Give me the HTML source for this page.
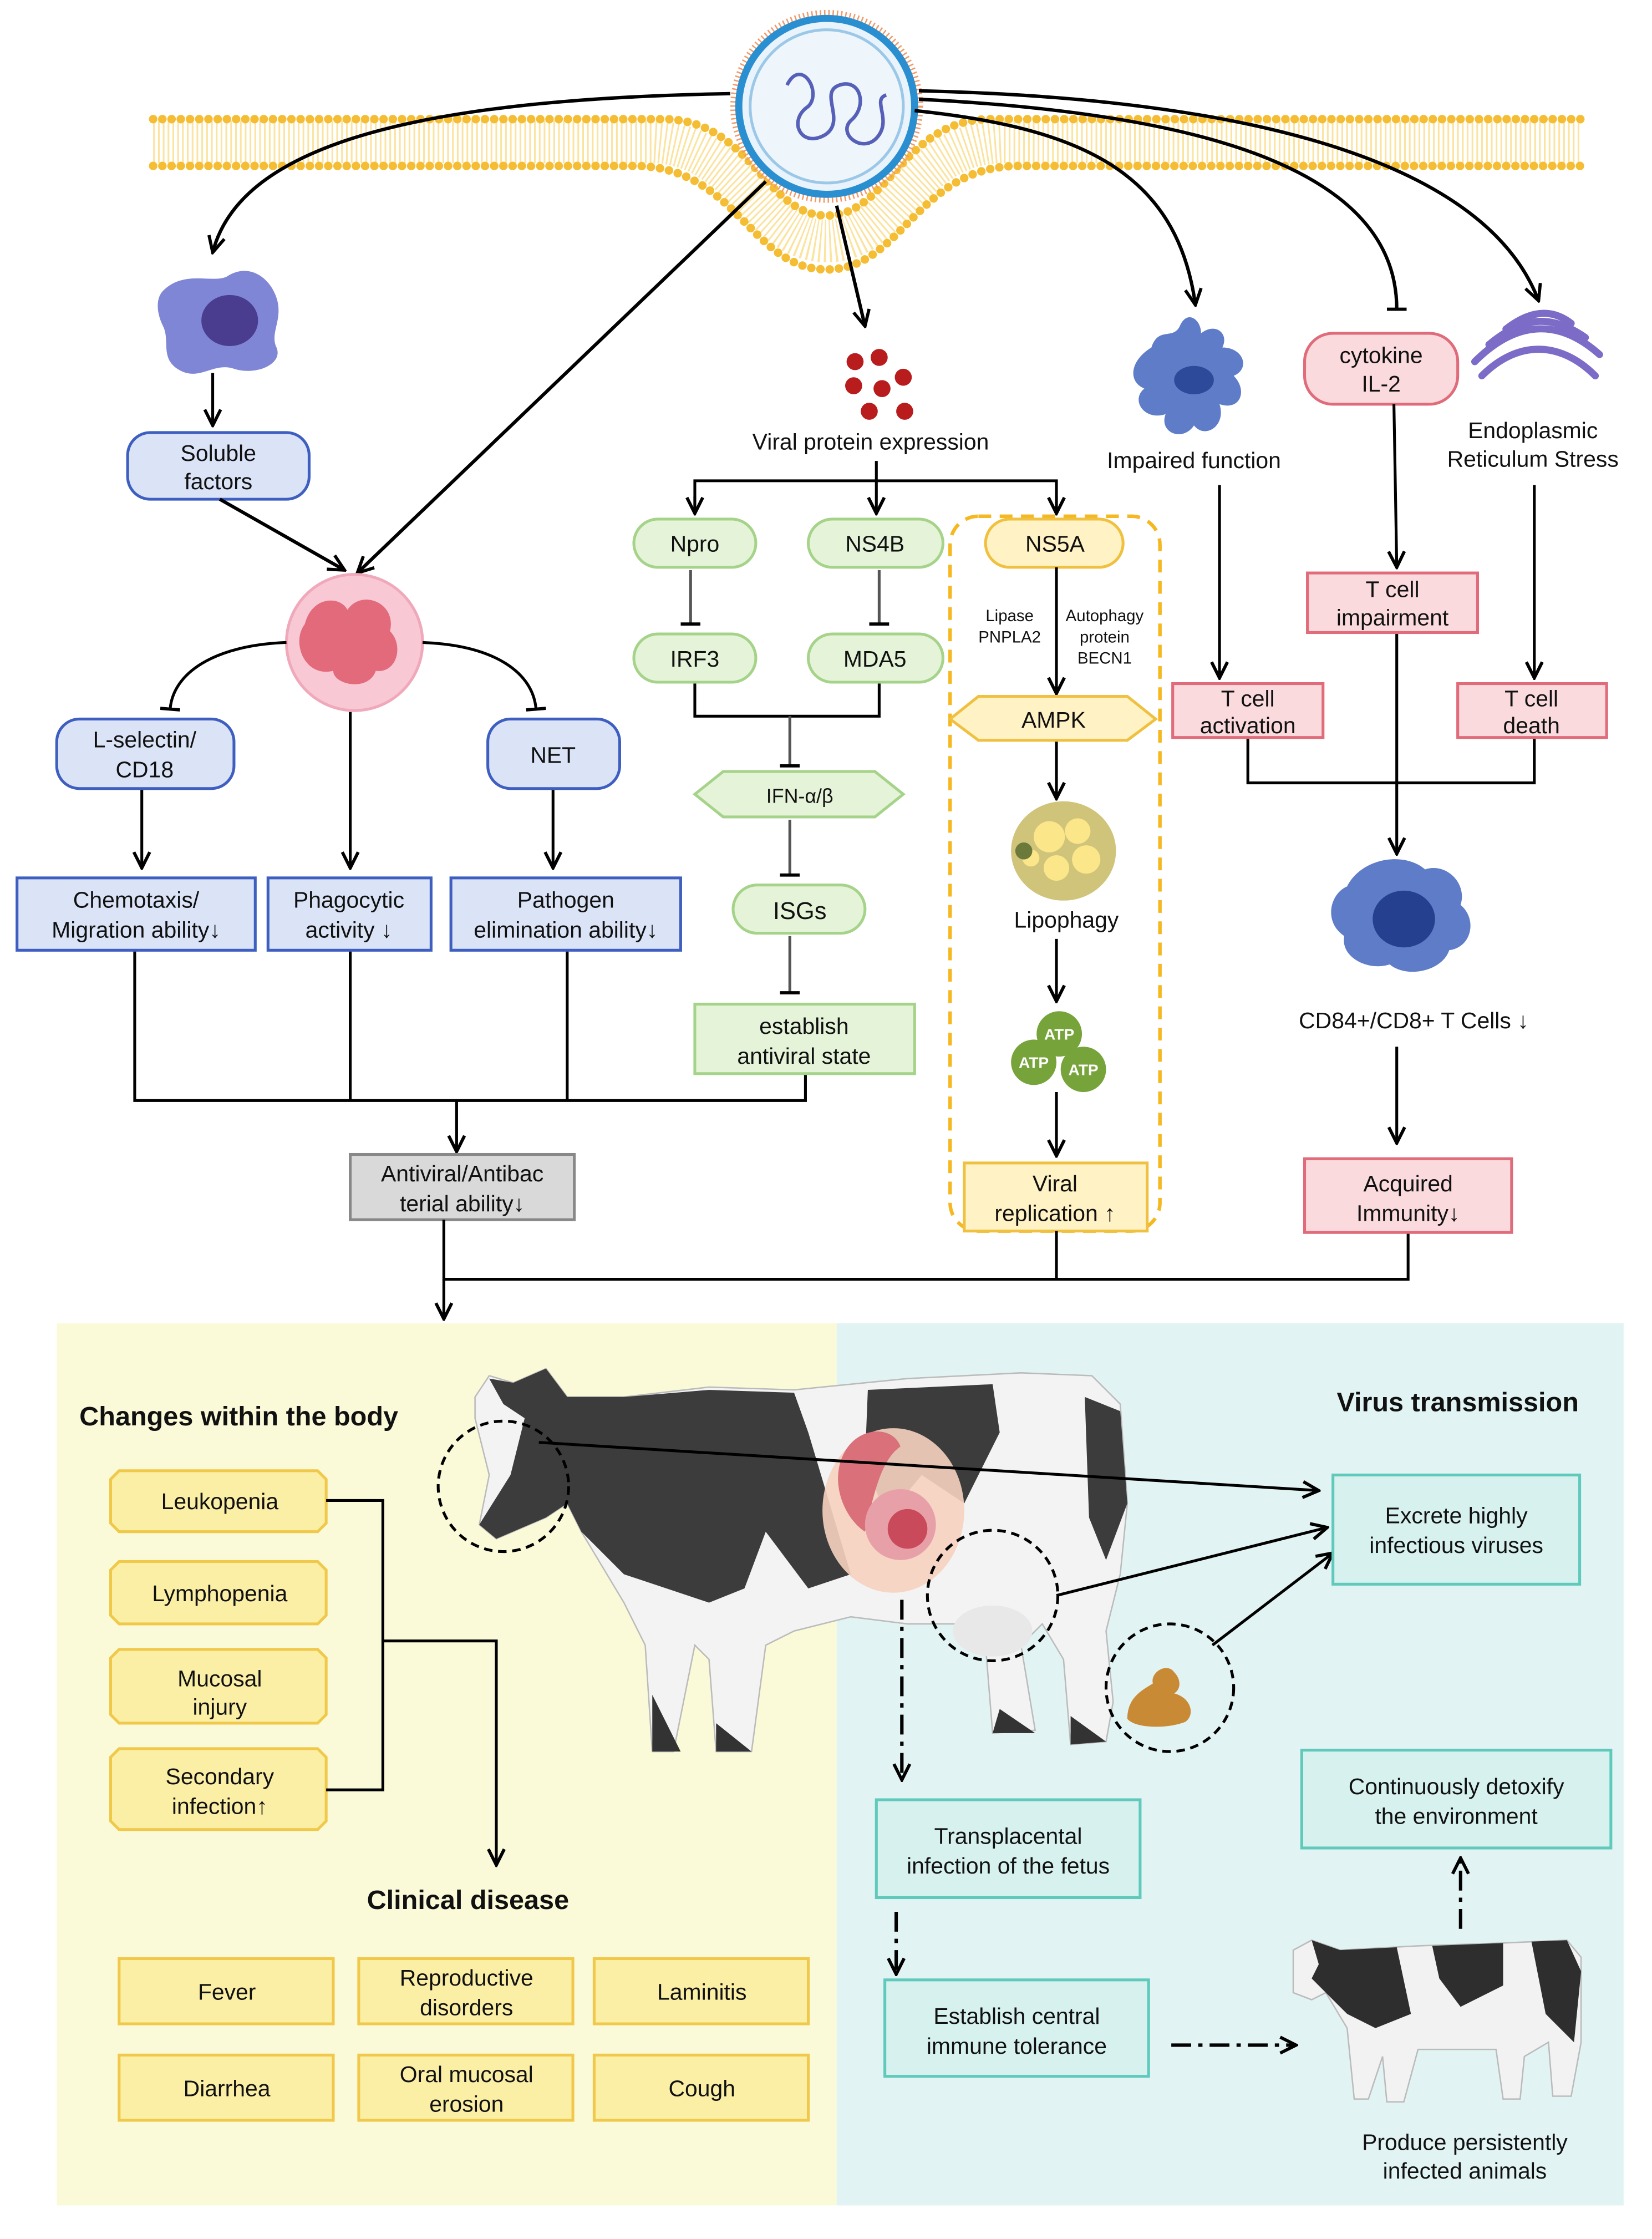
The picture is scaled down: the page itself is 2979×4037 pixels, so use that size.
<!DOCTYPE html>
<html><head><meta charset="utf-8"><style>
html,body{margin:0;padding:0;background:#fff}
svg{display:block}
text{font-family:"Liberation Sans",Arial,sans-serif;fill:#111}
</style></head><body>
<svg width="2979" height="4037" viewBox="0 0 1165 1578.7" preserveAspectRatio="none" xmlns="http://www.w3.org/2000/svg">
<defs>
<marker id="ar" viewBox="0 0 10 10" refX="9" refY="5" markerWidth="7" markerHeight="7" orient="auto-start-reverse" markerUnits="userSpaceOnUse"><path d="M0,0 L10,5 L0,10" fill="none" stroke="#000" stroke-width="2"/></marker>
<marker id="ar2" viewBox="0 0 10 10" refX="9" refY="5" markerWidth="14" markerHeight="14" orient="auto" markerUnits="userSpaceOnUse"><path d="M1,1 L9,5 L1,9" fill="none" stroke="#000" stroke-width="1.6"/></marker>
<marker id="tb" viewBox="0 0 10 10" refX="5" refY="5" markerWidth="14" markerHeight="14" orient="auto" markerUnits="userSpaceOnUse"><path d="M5,0 L5,10" stroke="#000" stroke-width="1.6"/></marker>
</defs>

<!-- panels -->
<rect x="40" y="933" width="550" height="622" fill="#fbfad8"/>
<rect x="590" y="933" width="555" height="622" fill="#e1f4f3"/>

<!-- membrane -->
<g fill="none">
<path d="M108,83 L470,83 C530,85 540,150 583,150 C626,150 636,85 696,83 L1115,83" stroke="#f7d27a" stroke-width="0"/>
<path d="M108,100 L460,100 C525,102 535,170 583,170 C631,170 641,102 706,100 L1115,100" stroke="#fbe3a0" stroke-width="30" stroke-dasharray="1.2 2.2"/>
<path d="M108,84 L470,84 C530,86 540,152 583,152 C626,152 636,86 696,84 L1115,84" stroke="#f5bd33" stroke-width="6" stroke-linecap="round" stroke-dasharray="0 6.5"/>
<path d="M108,117 L450,117 C520,119 530,190 583,190 C636,190 646,119 716,117 L1115,117" stroke="#f5bd33" stroke-width="6" stroke-linecap="round" stroke-dasharray="0 6.5"/>
</g>
<!-- virus -->
<circle cx="583" cy="75" r="66" fill="#fff" stroke="#f09a6a" stroke-width="4" stroke-dasharray="1 2"/>
<circle cx="583" cy="75" r="62" fill="#e9f3fb" stroke="#2a8fd0" stroke-width="5"/>
<circle cx="583" cy="75" r="54" fill="#eef6fc" stroke="#9cc8e8" stroke-width="2"/>
<path d="M555,60 c10,-20 25,5 15,15 c-15,10 -5,30 12,20 c15,-10 -5,-30 10,-35 c15,-5 20,15 8,25 c-10,10 10,25 20,10 c8,-12 -5,-25 5,-28" fill="none" stroke="#5660b8" stroke-width="2.5"/>

<!-- virus arrows -->
<g fill="none" stroke="#000" stroke-width="2.4">
<path d="M515,66 C300,70 170,100 150,178" marker-end="url(#ar2)"/>
<path d="M540,128 L252,404" marker-end="url(#ar2)"/>
<path d="M590,145 L610,230" marker-end="url(#ar2)"/>
<path d="M645,78 C760,90 830,120 843,215" marker-end="url(#ar2)"/>
<path d="M648,70 C850,80 985,120 985,218" marker-end="url(#tb)"/>
<path d="M648,64 C900,70 1050,120 1085,212" marker-end="url(#ar2)"/>
</g>

<!-- macrophage -->
<path d="M115,205 c15,-15 35,-5 45,-10 c15,-10 30,0 35,15 c5,15 -5,25 0,35 c5,12 -15,20 -30,15 c-15,-5 -25,10 -40,0 c-12,-8 -5,-20 -10,-30 c-5,-10 -5,-20 0,-25z" fill="#7f86d6"/>
<ellipse cx="162" cy="226" rx="20" ry="18" fill="#4a3d90"/>
<line x1="150" y1="263" x2="150" y2="300" stroke="#000" stroke-width="2" marker-end="url(#ar2)"/>
<rect x="90" y="305" width="128" height="47" rx="16" fill="#dbe3f7" stroke="#3f5fc0" stroke-width="2"/>
<text x="154" y="325" font-size="16" text-anchor="middle">Soluble</text>
<text x="154" y="345" font-size="16" text-anchor="middle">factors</text>
<line x1="155" y1="352" x2="243" y2="402" stroke="#000" stroke-width="2.4" marker-end="url(#ar2)"/>

<!-- neutrophil -->
<circle cx="250" cy="453" r="48" fill="#f8c8d4" stroke="#f0a8bb" stroke-width="2"/>
<path d="M215,440 c5,-20 25,-20 30,-10 c10,-15 35,-5 30,15 c10,10 5,30 -10,28 c-5,15 -30,10 -30,0 c-20,5 -30,-20 -20,-33z" fill="#e26a7a"/>
<g fill="none" stroke="#000" stroke-width="2">
<path d="M202,453 C150,455 122,475 120,500" marker-end="url(#tb)"/>
<path d="M298,453 C350,455 376,475 378,500" marker-end="url(#tb)"/>
<line x1="247" y1="502" x2="247" y2="612" marker-end="url(#ar2)"/>
<line x1="100" y1="556" x2="100" y2="612" marker-end="url(#ar2)"/>
<line x1="390" y1="556" x2="390" y2="612" marker-end="url(#ar2)"/>
<polyline points="95,670 95,776 568,776 568,757"/>
<line x1="247" y1="670" x2="247" y2="776"/>
<line x1="400" y1="670" x2="400" y2="776"/>
<line x1="322" y1="776" x2="322" y2="812" marker-end="url(#ar2)"/>
</g>
<rect x="40" y="507" width="125" height="49" rx="16" fill="#dbe3f7" stroke="#3f5fc0" stroke-width="2"/>
<text x="102" y="527" font-size="16" text-anchor="middle">L-selectin/</text>
<text x="102" y="548" font-size="16" text-anchor="middle">CD18</text>
<rect x="344" y="507" width="93" height="49" rx="16" fill="#dbe3f7" stroke="#3f5fc0" stroke-width="2"/>
<text x="390" y="538" font-size="16" text-anchor="middle">NET</text>
<rect x="12" y="619" width="168" height="51" fill="#dbe3f7" stroke="#3f5fc0" stroke-width="2"/>
<text x="96" y="640" font-size="16" text-anchor="middle">Chemotaxis/</text>
<text x="96" y="661" font-size="16" text-anchor="middle">Migration ability↓</text>
<rect x="189" y="619" width="115" height="51" fill="#dbe3f7" stroke="#3f5fc0" stroke-width="2"/>
<text x="246" y="640" font-size="16" text-anchor="middle">Phagocytic</text>
<text x="246" y="661" font-size="16" text-anchor="middle">activity  ↓</text>
<rect x="318" y="619" width="162" height="51" fill="#dbe3f7" stroke="#3f5fc0" stroke-width="2"/>
<text x="399" y="640" font-size="16" text-anchor="middle">Pathogen</text>
<text x="399" y="661" font-size="16" text-anchor="middle">elimination ability↓</text>
<rect x="247" y="814" width="158" height="46" fill="#d9d9d9" stroke="#888" stroke-width="2"/>
<text x="326" y="833" font-size="16" text-anchor="middle">Antiviral/Antibac</text>
<text x="326" y="854" font-size="16" text-anchor="middle">terial ability↓</text>

<!-- viral protein -->
<g fill="#b81c1c"><circle cx="603" cy="255" r="6"/><circle cx="620" cy="252" r="6"/><circle cx="637" cy="266" r="6"/><circle cx="602" cy="272" r="6"/><circle cx="622" cy="274" r="6"/><circle cx="613" cy="290" r="6"/><circle cx="638" cy="290" r="6"/></g>
<text x="614" y="317" font-size="16" text-anchor="middle">Viral protein expression</text>
<g fill="none" stroke="#000" stroke-width="2">
<line x1="618" y1="325" x2="618" y2="362" marker-end="url(#ar2)"/>
<polyline points="490,362 490,339 745,339 745,362"/>
<line x1="490" y1="350" x2="490" y2="362" marker-end="url(#ar2)"/>
<line x1="745" y1="350" x2="745" y2="362" marker-end="url(#ar2)"/>
<line x1="487" y1="402" x2="487" y2="440" marker-end="url(#tb)" stroke="#555"/>
<line x1="620" y1="402" x2="620" y2="440" marker-end="url(#tb)" stroke="#555"/>
<polyline points="490,481 490,505 620,505 620,481"/>
<line x1="557" y1="505" x2="557" y2="540" marker-end="url(#tb)" stroke="#555"/>
<line x1="557" y1="578" x2="557" y2="617" marker-end="url(#tb)" stroke="#555"/>
<line x1="557" y1="660" x2="557" y2="700" marker-end="url(#tb)" stroke="#555"/>
</g>
<g stroke="#a6d38a" stroke-width="2" fill="#e5f4d9">
<rect x="447" y="366" width="86" height="34" rx="17"/>
<rect x="570" y="366" width="95" height="34" rx="17"/>
<rect x="447" y="447" width="86" height="34" rx="17"/>
<rect x="570" y="447" width="95" height="34" rx="17"/>
<polygon points="490,560 510,544 617,544 637,560 617,576 510,576"/>
<rect x="517" y="624" width="93" height="34" rx="17"/>
<rect x="490" y="708" width="155" height="49"/>
</g>
<text x="490" y="389" font-size="16" text-anchor="middle">Npro</text>
<text x="617" y="389" font-size="16" text-anchor="middle">NS4B</text>
<text x="490" y="470" font-size="16" text-anchor="middle">IRF3</text>
<text x="617" y="470" font-size="16" text-anchor="middle">MDA5</text>
<text x="564" y="566" font-size="14" text-anchor="middle">IFN-α/β</text>
<text x="564" y="648" font-size="17" text-anchor="middle">ISGs</text>
<text x="567" y="729" font-size="16" text-anchor="middle">establish</text>
<text x="567" y="750" font-size="16" text-anchor="middle">antiviral state</text>

<!-- NS5A column -->
<rect x="670" y="364" width="148" height="504" rx="20" fill="none" stroke="#f5b820" stroke-width="2.5" stroke-dasharray="9 6"/>
<rect x="695" y="366" width="97" height="34" rx="17" fill="#fff2c4" stroke="#f0c040" stroke-width="2"/>
<text x="744" y="389" font-size="16" text-anchor="middle">NS5A</text>
<g fill="none" stroke="#000" stroke-width="2">
<line x1="745" y1="400" x2="745" y2="489" marker-end="url(#ar2)"/>
<line x1="745" y1="522" x2="745" y2="563" marker-end="url(#ar2)"/>
<line x1="745" y1="662" x2="745" y2="706" marker-end="url(#ar2)"/>
<line x1="745" y1="770" x2="745" y2="815" marker-end="url(#ar2)"/>
</g>
<text x="712" y="438" font-size="11.5" text-anchor="middle">Lipase</text>
<text x="712" y="453" font-size="11.5" text-anchor="middle">PNPLA2</text>
<text x="779" y="438" font-size="11.5" text-anchor="middle">Autophagy</text>
<text x="779" y="453" font-size="11.5" text-anchor="middle">protein</text>
<text x="779" y="468" font-size="11.5" text-anchor="middle">BECN1</text>
<polygon points="670,507 690,491 795,491 815,507 795,522 690,522" fill="#fff2c4" stroke="#f0c040" stroke-width="2"/>
<text x="743" y="513" font-size="16" text-anchor="middle">AMPK</text>
<ellipse cx="750" cy="600" rx="37" ry="35" fill="#cfc47a"/>
<circle cx="740" cy="590" r="11" fill="#fbe68a"/><circle cx="760" cy="586" r="9" fill="#fbe68a"/><circle cx="766" cy="606" r="10" fill="#fbe68a"/><circle cx="745" cy="612" r="9" fill="#fbe68a"/><circle cx="727" cy="605" r="6" fill="#fbe68a"/><circle cx="722" cy="600" r="6" fill="#6b7a3a"/>
<text x="752" y="654" font-size="16" text-anchor="middle">Lipophagy</text>
<g fill="#77a43a"><circle cx="747" cy="729" r="16"/><circle cx="729" cy="749" r="16"/><circle cx="764" cy="754" r="16"/></g>
<g fill="#fff" font-size="11" font-weight="bold" text-anchor="middle"><text x="747" y="733" style="fill:#fff">ATP</text><text x="729" y="753" style="fill:#fff">ATP</text><text x="764" y="758" style="fill:#fff">ATP</text></g>
<rect x="680" y="820" width="129" height="48" fill="#fff2c4" stroke="#f0c040" stroke-width="2"/>
<text x="744" y="840" font-size="16" text-anchor="middle">Viral</text>
<text x="744" y="861" font-size="16" text-anchor="middle">replication  ↑</text>

<!-- right column -->
<path d="M812,245 c5,-15 15,-5 20,-15 c5,-12 15,-5 15,5 c10,-8 20,0 15,10 c15,0 20,15 8,20 c10,10 5,25 -10,20 c5,15 -10,25 -18,15 c-8,12 -25,5 -20,-8 c-15,5 -25,-10 -15,-18 c-12,-5 -10,-20 5,-29z" fill="#5f7cc8"/>
<ellipse cx="842" cy="268" rx="14" ry="10" fill="#2d4a9a"/>
<text x="842" y="330" font-size="16" text-anchor="middle">Impaired function</text>
<rect x="920" y="235" width="108" height="50" rx="20" fill="#fadadd" stroke="#e06b7a" stroke-width="2"/>
<text x="974" y="256" font-size="16" text-anchor="middle">cytokine</text>
<text x="974" y="276" font-size="16" text-anchor="middle">IL-2</text>
<g fill="none" stroke="#7c6cc8" stroke-width="5" stroke-linecap="round">
<path d="M1045,265 C1070,240 1100,240 1125,265"/><path d="M1040,255 C1070,225 1100,225 1128,250"/><path d="M1050,243 C1075,222 1095,222 1118,238"/><path d="M1062,232 C1080,218 1095,218 1108,228"/>
</g>
<text x="1081" y="309" font-size="16" text-anchor="middle">Endoplasmic</text>
<text x="1081" y="329" font-size="16" text-anchor="middle">Reticulum Stress</text>
<g fill="none" stroke="#000" stroke-width="2">
<line x1="860" y1="342" x2="860" y2="478" marker-end="url(#ar2)"/>
<line x1="983" y1="285" x2="985" y2="400" marker-end="url(#ar2)"/>
<line x1="1082" y1="342" x2="1082" y2="478" marker-end="url(#ar2)"/>
<line x1="985" y1="446" x2="985" y2="602" marker-end="url(#ar2)"/>
<polyline points="880,520 880,552 1082,552 1082,520"/>
<line x1="985" y1="738" x2="985" y2="806" marker-end="url(#ar2)"/>
<polyline points="313,860 313,902 993,902 993,869"/>
<line x1="745" y1="868" x2="745" y2="902"/>
<line x1="313" y1="902" x2="313" y2="930" marker-end="url(#ar2)"/>
</g>
<g fill="#fadadd" stroke="#e06b7a" stroke-width="2">
<rect x="922" y="404" width="120" height="42"/>
<rect x="827" y="482" width="106" height="38"/>
<rect x="1028" y="482" width="105" height="38"/>
<rect x="920" y="817" width="146" height="52"/>
</g>
<text x="982" y="421" font-size="16" text-anchor="middle">T cell</text>
<text x="982" y="441" font-size="16" text-anchor="middle">impairment</text>
<text x="880" y="498" font-size="16" text-anchor="middle">T cell</text>
<text x="880" y="517" font-size="16" text-anchor="middle">activation</text>
<text x="1080" y="498" font-size="16" text-anchor="middle">T cell</text>
<text x="1080" y="517" font-size="16" text-anchor="middle">death</text>
<text x="993" y="840" font-size="16" text-anchor="middle">Acquired</text>
<text x="993" y="861" font-size="16" text-anchor="middle">Immunity↓</text>
<path d="M950,625 c10,-20 40,-25 55,-12 c15,-5 30,10 25,25 c12,10 8,30 -8,32 c-5,15 -30,20 -42,10 c-15,5 -35,-5 -32,-20 c-15,-10 -10,-30 2,-35z" fill="#5f7cc8"/>
<ellipse cx="990" cy="648" rx="22" ry="20" fill="#24408e"/>
<text x="997" y="725" font-size="16" text-anchor="middle">CD84+/CD8+ T Cells ↓</text>

<!-- bottom left -->
<text x="56" y="1005" font-size="19" font-weight="bold">Changes within the body</text>
<g fill="#fbefa6" stroke="#f0c84a" stroke-width="2">
<polygon points="84,1037 224,1037 230,1043 230,1074 224,1080 84,1080 78,1074 78,1043"/>
<polygon points="84,1101 224,1101 230,1107 230,1139 224,1145 84,1145 78,1139 78,1107"/>
<polygon points="84,1163 224,1163 230,1169 230,1209 224,1215 84,1215 78,1209 78,1169"/>
<polygon points="84,1233 224,1233 230,1239 230,1284 224,1290 84,1290 78,1284 78,1239"/>
<rect x="84" y="1381" width="151" height="46"/><rect x="253" y="1381" width="151" height="46"/><rect x="419" y="1381" width="151" height="46"/>
<rect x="84" y="1449" width="151" height="46"/><rect x="253" y="1449" width="151" height="46"/><rect x="419" y="1449" width="151" height="46"/>
</g>
<g font-size="16" text-anchor="middle">
<text x="155" y="1064">Leukopenia</text>
<text x="155" y="1129">Lymphopenia</text>
<text x="155" y="1189">Mucosal</text><text x="155" y="1209">injury</text>
<text x="155" y="1258">Secondary</text><text x="155" y="1279">infection↑</text>
<text x="160" y="1410">Fever</text>
<text x="329" y="1400">Reproductive</text><text x="329" y="1421">disorders</text>
<text x="495" y="1410">Laminitis</text>
<text x="160" y="1478">Diarrhea</text>
<text x="329" y="1468">Oral mucosal</text><text x="329" y="1489">erosion</text>
<text x="495" y="1478">Cough</text>
</g>
<g fill="none" stroke="#000" stroke-width="2">
<polyline points="230,1058 270,1058 270,1262 230,1262"/>
<polyline points="270,1157 350,1157 350,1315" marker-end="url(#ar2)"/>
</g>
<text x="330" y="1346" font-size="19" font-weight="bold" text-anchor="middle">Clinical disease</text>

<!-- big cow -->
<g>
<path d="M335,985 L345,970 L362,975 L385,965 L400,985 L440,985 L500,978 L560,980 L640,972 L720,968 L770,970 L790,990 L795,1060 L790,1110 L780,1150 L785,1200 L780,1228 L755,1230 L750,1170 L735,1145 L720,1160 L730,1220 L700,1222 L695,1160 L680,1145 L640,1145 L600,1140 L560,1150 L540,1160 L530,1235 L505,1235 L500,1170 L490,1160 L475,1235 L460,1235 L455,1160 L440,1130 L410,1080 L400,1060 L385,1070 L350,1085 L338,1075 L345,1040 L335,1000z" fill="#f3f3f3" stroke="#bbb" stroke-width="1"/>
<path d="M345,972 L362,975 L385,965 L400,985 L440,985 L500,980 L560,982 L570,1010 L585,1060 L600,1110 L570,1120 L540,1080 L525,1120 L500,1130 L470,1120 L440,1110 L410,1080 L400,1060 L385,1070 L350,1085 L338,1075 L360,1040 L370,1000 L355,990z" fill="#3c3c3c"/>
<path d="M612,980 L700,976 L705,1010 L680,1060 L650,1040 L625,1070 L610,1030z" fill="#3c3c3c"/>
<path d="M765,985 L790,995 L795,1060 L780,1100 L768,1070z" fill="#3c3c3c"/>
<path d="M460,1195 L480,1235 L460,1235z M505,1215 L530,1235 L505,1235z M705,1205 L730,1222 L700,1222z M755,1210 L780,1228 L755,1230z" fill="#333"/>
<ellipse cx="630" cy="1065" rx="50" ry="58" fill="#f6d2c0" opacity="0.9"/>
<path d="M595,1025 c10,-20 35,-20 40,-5 c-15,10 -20,40 -25,60 c-15,-10 -25,-35 -15,-55z" fill="#d9707a"/>
<circle cx="635" cy="1075" r="25" fill="#e8a0a8"/><circle cx="640" cy="1078" r="14" fill="#c94a5a"/>
<ellipse cx="700" cy="1150" rx="28" ry="18" fill="#e8e8e8"/>
</g>
<g fill="none" stroke="#000" stroke-width="2" stroke-dasharray="6 4">
<circle cx="355" cy="1048" r="46"/><circle cx="700" cy="1125" r="46"/><circle cx="825" cy="1190" r="45"/>
</g>
<path d="M795,1212 c0,-15 10,-20 18,-25 c-2,-8 10,-15 15,-8 c5,5 5,12 0,15 c12,3 15,15 8,20 c-12,5 -35,5 -41,-2z" fill="#c98a35"/>
<g fill="none" stroke="#000" stroke-width="2">
<line x1="380" y1="1017" x2="930" y2="1051" marker-end="url(#ar2)"/>
<line x1="745" y1="1125" x2="936" y2="1077" marker-end="url(#ar2)"/>
<line x1="855" y1="1160" x2="940" y2="1095" marker-end="url(#ar2)"/>
</g>
<g fill="none" stroke="#000" stroke-width="2.4" stroke-dasharray="14 5 3 5">
<line x1="636" y1="1128" x2="636" y2="1255" marker-end="url(#ar2)"/>
<line x1="632" y1="1348" x2="632" y2="1392" marker-end="url(#ar2)"/>
<line x1="826" y1="1442" x2="914" y2="1442" marker-end="url(#ar2)"/>
<line x1="1030" y1="1360" x2="1030" y2="1310" marker-end="url(#ar2)"/>
</g>
<text x="1028" y="995" font-size="19" font-weight="bold" text-anchor="middle">Virus transmission</text>
<g fill="#d6f1ee" stroke="#5fcabb" stroke-width="2">
<rect x="940" y="1040" width="174" height="77"/>
<rect x="618" y="1269" width="186" height="69"/>
<rect x="624" y="1396" width="186" height="68"/>
<rect x="918" y="1234" width="218" height="69"/>
</g>
<g font-size="16" text-anchor="middle">
<text x="1027" y="1074">Excrete highly</text><text x="1027" y="1095">infectious viruses</text>
<text x="711" y="1300">Transplacental</text><text x="711" y="1321">infection of the fetus</text>
<text x="717" y="1427">Establish central</text><text x="717" y="1448">immune tolerance</text>
<text x="1027" y="1265">Continuously detoxify</text><text x="1027" y="1286">the environment</text>
<text x="1033" y="1516">Produce persistently</text><text x="1033" y="1536">infected animals</text>
</g>
<!-- small cow -->
<g>
<path d="M912,1375 L925,1368 L945,1375 L1000,1372 L1060,1370 L1105,1368 L1115,1380 L1115,1440 L1108,1478 L1095,1478 L1092,1440 L1075,1450 L1072,1480 L1060,1480 L1055,1445 L1000,1445 L990,1482 L978,1482 L975,1450 L965,1480 L955,1480 L950,1430 L935,1405 L925,1410 L912,1405z" fill="#f2f2f2" stroke="#bbb" stroke-width="1"/>
<path d="M925,1368 L945,1375 L985,1373 L995,1420 L970,1430 L950,1420 L935,1405 L925,1395 L930,1385z" fill="#2e2e2e"/>
<path d="M1010,1372 L1060,1370 L1060,1400 L1030,1415 L1015,1395z" fill="#2e2e2e"/>
<path d="M1080,1369 L1105,1368 L1115,1390 L1110,1440 L1090,1420z" fill="#2e2e2e"/>
</g>
</svg>
</body></html>
